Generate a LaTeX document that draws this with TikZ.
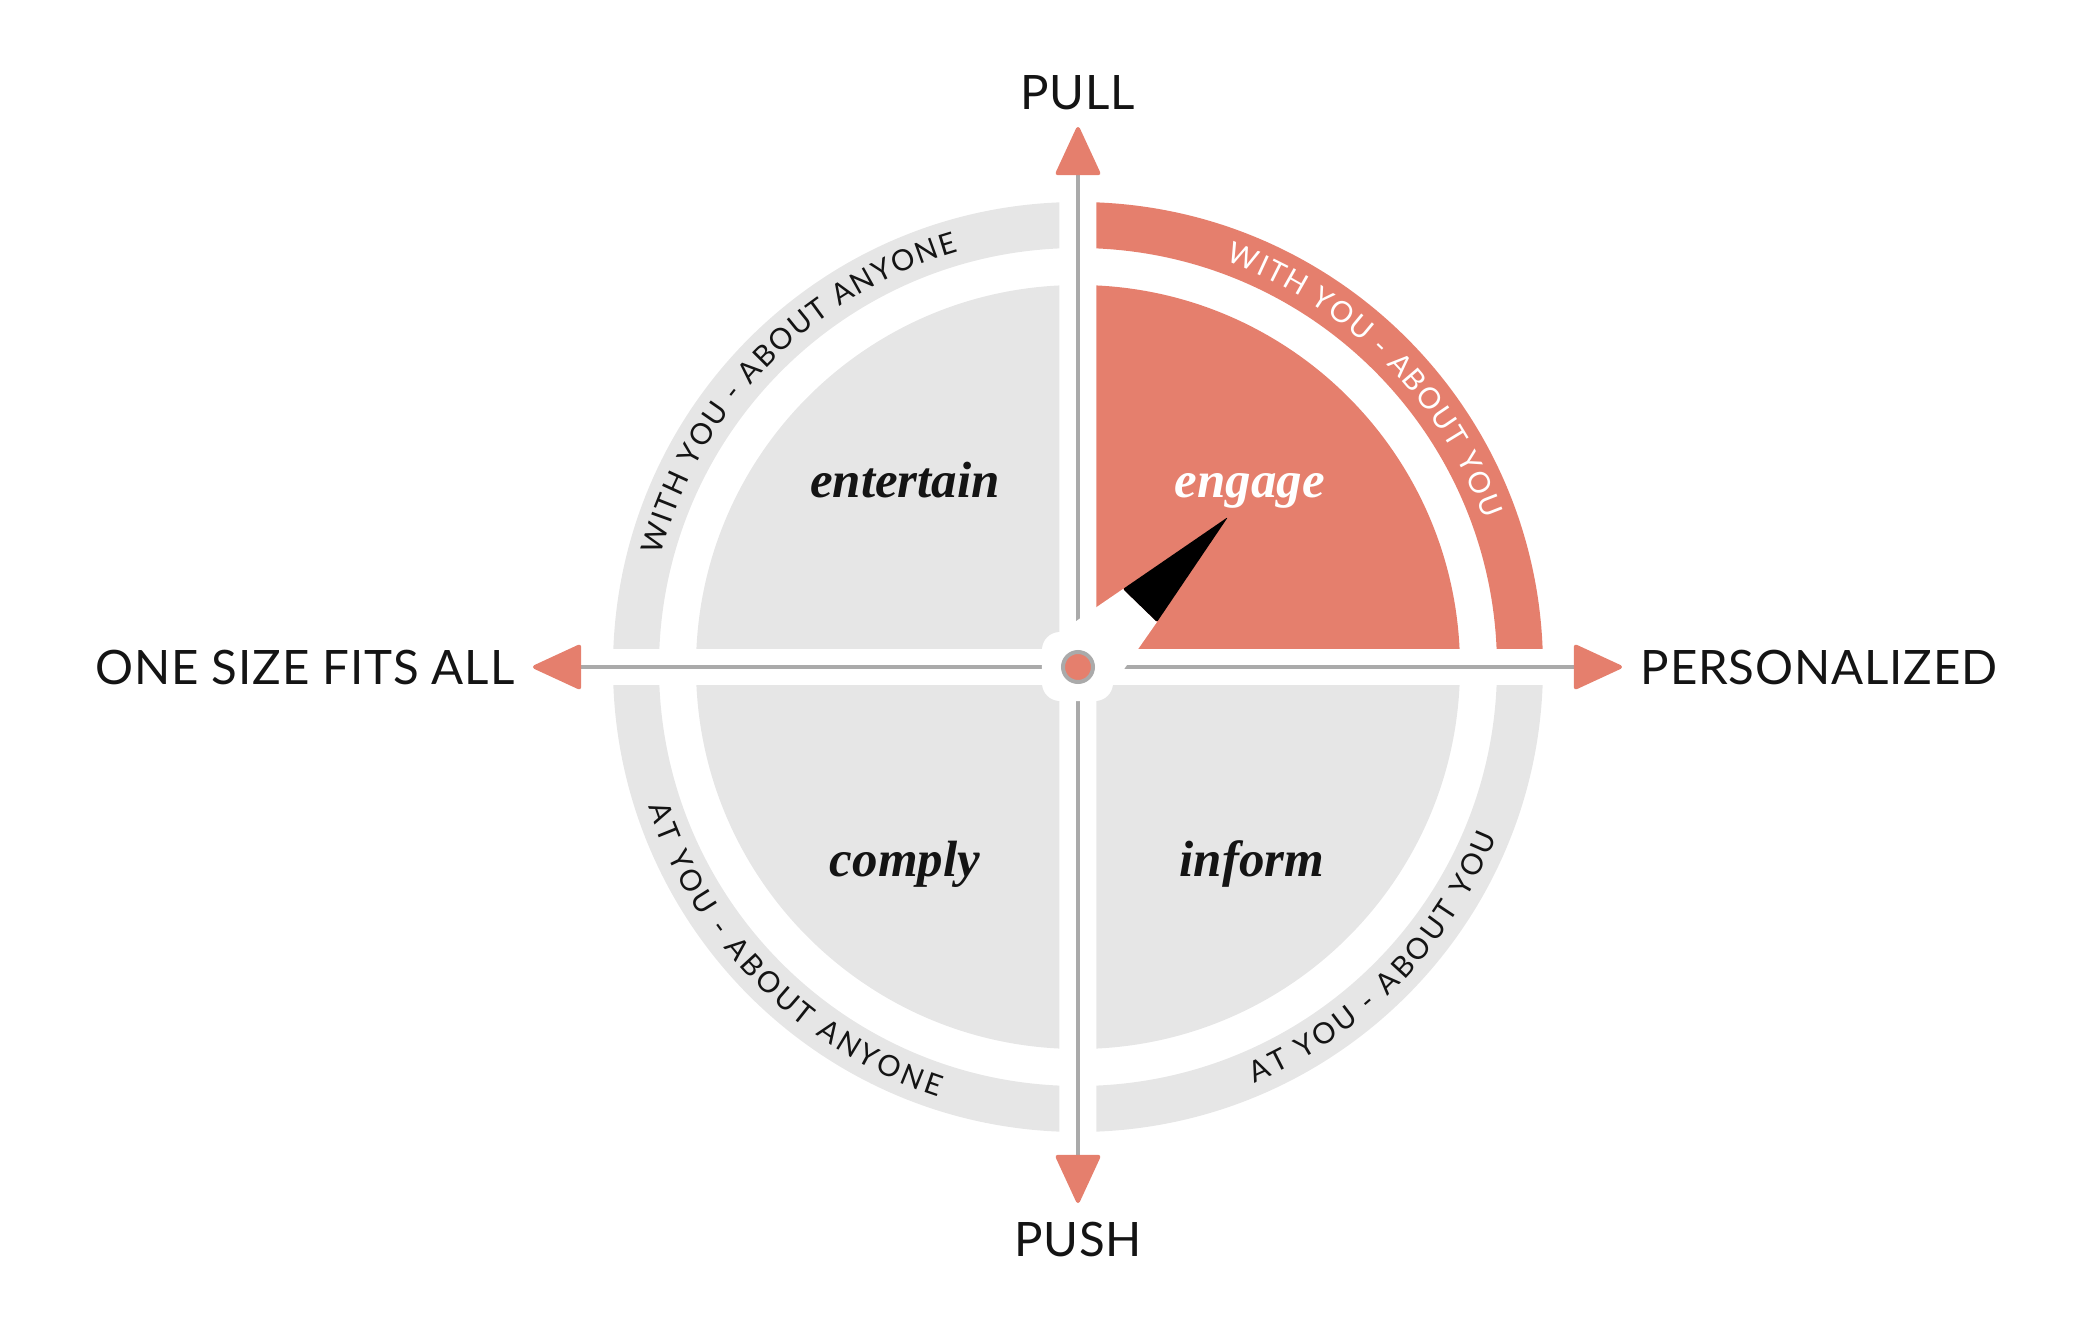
\documentclass[tikz,border=0pt]{standalone}
\usepackage{fontspec}
\usetikzlibrary{arrows.meta,decorations.text}
\newfontfamily\axisfont[LetterSpace=1.8]{Lato}
\newfontfamily\ringbase{Lato}
\newfontfamily\quadfont{Liberation Serif}
\definecolor{Coral}{RGB}{229,127,109}
\definecolor{PaleGray}{RGB}{230,230,230}
\definecolor{AxisGray}{RGB}{170,170,170}
\definecolor{InkBlack}{RGB}{20,20,20}
\newcommand{\rOut}{4.65}   % outer edge of the ring
\newcommand{\rIn}{4.19}    % inner edge of the ring
\newcommand{\rQuad}{3.82}  % radius of the quadrants
\newcommand{\halfGap}{0.185}
\newcommand{\ringFont}{\ringbase\fontsize{8.3}{10}\selectfont}

\begin{document}
\begin{tikzpicture}[
  axislabel/.style={font=\axisfont\fontsize{13.5}{16}\selectfont, text=InkBlack, inner sep=0pt},
  quadlabel/.style={font=\quadfont\bfseries\itshape\fontsize{14.5}{17}\selectfont, inner sep=0pt, anchor=base},
  axis/.style={draw=AxisGray, line width=0.4mm,
    -{Triangle[length=5.1mm, width=4.6mm, round, color=Coral]}},
  ringtext/.style={decorate, decoration={text along path, text align={fit to path},
    text color=#1}},
]
\useasboundingbox (-10.78,-6.63) rectangle (10.02,6.67);

% --- Quadrants and outer ring ---
\foreach \ang/\tone in {0/Coral,90/PaleGray,180/PaleGray,270/PaleGray}{
  \begin{scope}[rotate=\ang]
    \clip (\halfGap,\halfGap) rectangle (5,5);
    \fill[\tone, even odd rule] (0,0) circle[radius=\rOut] circle[radius=\rIn];
    \fill[\tone] (0,0) circle[radius=\rQuad];
  \end{scope}
}

% --- Ring texts ---
\path[ringtext=white, decoration={text={|\ringFont|WITH YOU - ABOUT YOU}}]
  (70:4.32) arc[start angle=70, end angle=20, radius=4.32];
\path[ringtext=InkBlack, decoration={text={|\ringFont|WITH YOU - ABOUT ANYONE}}]
  (165:4.32) arc[start angle=165, end angle=106, radius=4.32];
\path[ringtext=InkBlack, decoration={text={|\ringFont|AT YOU - ABOUT ANYONE}}]
  (198:4.52) arc[start angle=198, end angle=252, radius=4.52];
\path[ringtext=InkBlack, decoration={text={|\ringFont|AT YOU - ABOUT YOU}}]
  (293:4.52) arc[start angle=293, end angle=338, radius=4.52];

% --- Quadrant labels ---
\node[quadlabel, text=InkBlack] (entertain) at (-1.73,1.70) {entertain};
\node[quadlabel, text=white] (engage) at (1.72,1.70) {engage};
\node[quadlabel, text=InkBlack] (comply) at (-1.73,-2.09) {comply};
\node[quadlabel, text=InkBlack] (inform) at (1.74,-2.09) {inform};

% --- Axes ---
\coordinate (hub) at (0,0);
\coordinate (pullTip) at (0,5.40);
\coordinate (pushTip) at (0,-5.36);
\coordinate (uniformTip) at (-5.45,0);
\coordinate (personalTip) at (5.44,0);
\draw[axis] (hub) -- (pullTip);
\draw[axis] (hub) -- (pushTip);
\draw[axis] (hub) -- (uniformTip);
\draw[axis] (hub) -- (personalTip);

\node[axislabel] (pull) at (0,5.74) {PULL};
\node[axislabel] (push) at (0,-5.73) {PUSH};
\node[axislabel, anchor=east] (uniform) at (-5.63,0) {ONE SIZE FITS ALL};
\node[axislabel, anchor=west] (personal) at (5.62,0) {PERSONALIZED};

% --- Needle ---
\fill[white] (0.45,0.78) -- (0.79,0.45) -- (0.28,-0.28) -- (-0.28,0.28) -- cycle;
\fill[black, rounded corners=0.4pt] (1.50,1.50) -- (0.45,0.78) -- (0.79,0.45) -- cycle;
\fill[white, rounded corners=1.8mm] (-0.36,-0.34) rectangle (0.35,0.35);
\filldraw[fill=Coral, draw=AxisGray, line width=0.4mm] (hub) circle[radius=0.15];

\end{tikzpicture}
\end{document}
